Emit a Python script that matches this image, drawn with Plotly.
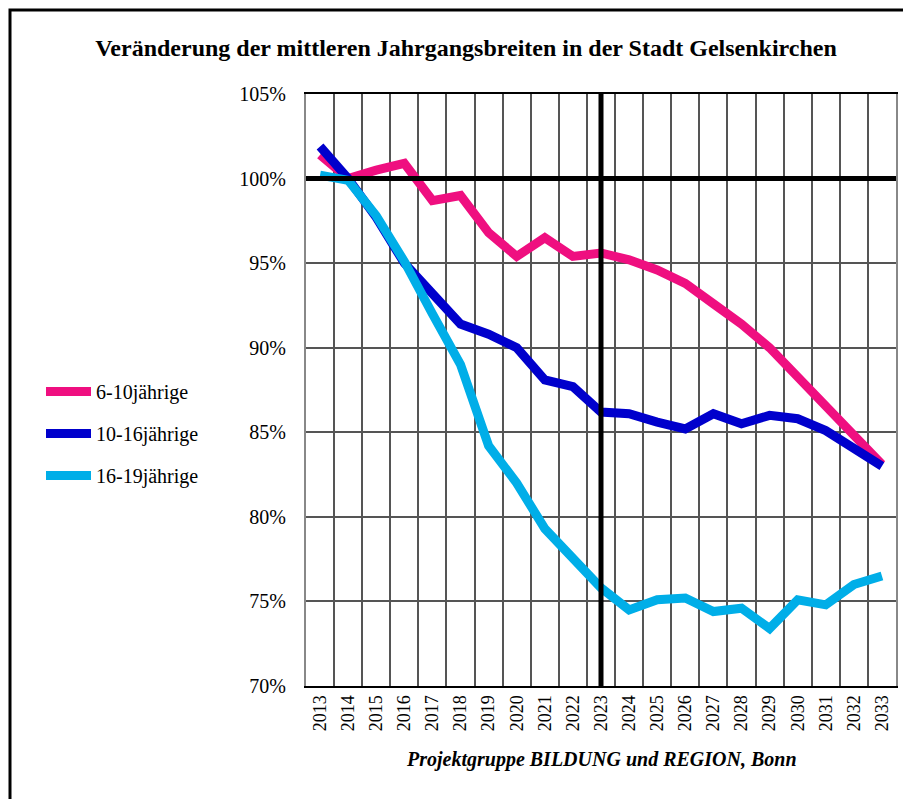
import plotly.graph_objects as go

years = [str(y) for y in range(2013, 2034)]
series_names = ["6-10jährige", "10-16jährige", "16-19jährige"]
v_6_10 = [101.4, 100.0, 100.5, 100.9, 98.7, 99.0, 96.8, 95.4, 96.5, 95.4, 95.6,
          95.2, 94.6, 93.8, 92.6, 91.4, 90.0, 88.3, 86.6, 84.8, 83.1]
v_10_16 = [101.9, 100.0, 97.7, 95.0, 93.2, 91.4, 90.8, 90.0, 88.1, 87.7, 86.2,
           86.1, 85.6, 85.2, 86.1, 85.5, 86.0, 85.8, 85.1, 84.1, 83.0]
v_16_19 = [100.2, 99.9, 97.8, 95.1, 92.0, 89.0, 84.2, 82.0, 79.3, 77.6, 75.8,
           74.5, 75.1, 75.2, 74.4, 74.6, 73.4, 75.1, 74.8, 76.0, 76.5]
colors = ["#EF0F80", "#0000CC", "#00AEE8"]
y_ticks = [70, 75, 80, 85, 90, 95, 100, 105]
ref_year = "2023"
ref_level = 100

FONT = "Liberation Serif"

# page offset (body margin) compensation
OFF = 8
W, H = 911 - OFF, 799 - OFF
L, T, PW, PH = 306, 94, 590, 592  # plot area in page pixels

def px_x(p):
    return (p - L) / PW

def px_y(p):
    return (T + PH - p) / PH

fig = go.Figure()
# 100% reference line (on a hidden overlay axis so it sits above the grid, below the data)
fig.add_trace(go.Scatter(x=[0, 1], y=[ref_level, ref_level], xaxis="x2", mode="lines",
                         line=dict(color="black", width=5), showlegend=False, hoverinfo="skip"))
for i, (name, vals) in enumerate(zip(series_names, [v_6_10, v_10_16, v_16_19])):
    fig.add_trace(go.Scatter(
        x=years, y=vals, name=name, mode="lines",
        line=dict(color=colors[i], width=9),
        legendgroup=name,
    ))

ref_idx = years.index(ref_year)
fig.add_shape(type="line", xref="x", yref="paper", x0=ref_idx, x1=ref_idx,
              y0=0, y1=1, line=dict(color="black", width=5), layer="above")

# outer frame
fig.add_shape(type="rect", xref="paper", yref="paper",
              x0=px_x(10), x1=px_x(925), y0=px_y(815), y1=px_y(10),
              line=dict(color="black", width=3), fillcolor="rgba(0,0,0,0)")

fig.add_annotation(xref="paper", yref="paper", x=px_x(601), y=px_y(773),
                   text="<b><i>Projektgruppe BILDUNG und REGION, Bonn</i></b>",
                   showarrow=False, font=dict(family=FONT, size=20, color="black"))

fig.update_layout(
    width=W, height=H,
    margin=dict(l=L - OFF, r=W - (L - OFF) - PW, t=T - OFF, b=H - (T - OFF) - PH),
    paper_bgcolor="white", plot_bgcolor="white",
    title=dict(text="<b>Veränderung der mittleren Jahrgangsbreiten in der Stadt Gelsenkirchen</b>",
               x=(466 - OFF) / W, xanchor="center", y=1 - (48 - OFF) / H, yanchor="middle",
               font=dict(family=FONT, size=24, color="black")),
    font=dict(family=FONT, color="black"),
    legend=dict(x=px_x(41), y=px_y(372), xanchor="left", yanchor="top",
                font=dict(family=FONT, size=20, color="black"), itemwidth=45,
                traceorder="grouped", tracegroupgap=13, bgcolor="rgba(0,0,0,0)"),
    showlegend=True,
    xaxis2=dict(overlaying="x", range=[0, 1], visible=False, fixedrange=True),
)
fig.update_xaxes(selector=dict(anchor="y"))
fig.update_layout(xaxis=dict(
    type="category", categoryorder="array", categoryarray=years,
    range=[-0.5, len(years) - 0.5], tickson="boundaries",
    showgrid=True, gridcolor="#555555", gridwidth=1.5,
    showline=True, linecolor="black", linewidth=2, mirror=True,
    ticks="", tickangle=-90, tickfont=dict(family=FONT, size=18, color="black"),
    zeroline=False))
fig.update_yaxes(range=[70, 105], tickvals=y_ticks, ticktext=[f"{v}%" for v in y_ticks],
                 showgrid=True, gridcolor="#555555", gridwidth=1.5,
                 showline=True, linecolor="#888888", linewidth=2, mirror=True,
                 ticks="", ticklabelstandoff=14, tickfont=dict(family=FONT, size=20, color="black"),
                 zeroline=False)

fig.write_html("out.html")
